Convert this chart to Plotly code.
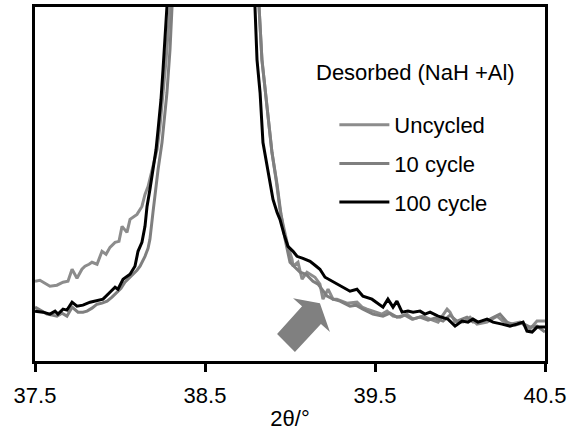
import plotly.graph_objects as go

# ---- data (2theta in degrees, intensity in arbitrary units) ----
uncycled_x = [37.500, 37.529, 37.588, 37.629, 37.665, 37.694, 37.718, 37.747, 37.776, 37.794,
              37.818, 37.835, 37.865, 37.894, 37.918, 37.941, 37.971, 37.994, 38.012, 38.041,
              38.059, 38.100, 38.129, 38.147, 38.165, 38.188, 38.218, 38.235, 38.253, 38.271,
              38.294, 38.40, 38.55, 38.70, 38.818, 38.835, 38.865, 38.894, 38.918, 38.941,
              38.959, 38.988, 39.012, 39.018, 39.047, 39.071, 39.100, 39.147, 39.176, 39.194,
              39.224, 39.253, 39.276, 39.335, 39.394, 39.424, 39.453, 39.512, 39.541, 39.571,
              39.606, 39.647, 39.688, 39.724, 39.782, 39.824, 39.871, 39.924, 39.941, 39.971,
              40.018, 40.059, 40.100, 40.159, 40.218, 40.253, 40.294, 40.353, 40.412, 40.453,
              40.500]
uncycled_y = [80, 81, 75, 76, 79, 80, 92, 83, 92, 95,
              97, 99, 97, 110, 107, 114, 119, 120, 135, 129,
              142, 147, 155, 167, 175, 192, 212, 235, 269, 302,
              355, 2500, 6000, 2500, 355, 302, 252, 209, 182, 152,
              137, 115, 102, 95, 99, 82, 89, 84, 77, 62,
              72, 62, 62, 58, 59, 54, 52, 49, 47, 50,
              45, 44, 47, 42, 45, 42, 39, 52, 49, 39,
              39, 44, 37, 39, 45, 40, 37, 39, 32, 40,
              40]

cycle10_x = [37.500, 37.529, 37.571, 37.600, 37.629, 37.659, 37.688, 37.718, 37.753, 37.782,
             37.806, 37.835, 37.865, 37.894, 37.924, 37.953, 37.982, 38.006, 38.029, 38.053,
             38.076, 38.100, 38.118, 38.135, 38.147, 38.165, 38.176, 38.194, 38.206, 38.224,
             38.247, 38.265, 38.276, 38.294, 38.306, 38.40, 38.55, 38.70, 38.818, 38.835,
             38.865, 38.894, 38.924, 38.947, 38.971, 39.000, 39.029, 39.059, 39.094, 39.135,
             39.165, 39.188, 39.218, 39.253, 39.294, 39.353, 39.388, 39.429, 39.488, 39.547,
             39.588, 39.629, 39.676, 39.718, 39.765, 39.812, 39.853, 39.900, 39.941, 39.982,
             40.041, 40.076, 40.118, 40.176, 40.235, 40.276, 40.324, 40.365, 40.412, 40.453,
             40.500]
cycle10_y = [54, 51, 47, 46, 45, 48, 45, 54, 49, 49,
             50, 53, 57, 58, 60, 64, 69, 73, 79, 83,
             87, 91, 95, 100, 105, 113, 122, 149, 169, 192,
             219, 247, 269, 312, 355, 2500, 6000, 2500, 355, 302,
             252, 209, 177, 147, 122, 99, 94, 89, 87, 80,
             77, 72, 65, 62, 60, 55, 56, 52, 47, 45,
             48, 44, 46, 42, 44, 41, 43, 40, 46, 40,
             44, 39, 39, 42, 47, 39, 36, 38, 34, 35,
             29]

cycle100_x = [37.500, 37.547, 37.588, 37.618, 37.635, 37.665, 37.688, 37.718, 37.747, 37.782,
              37.824, 37.865, 37.900, 37.941, 37.971, 37.988, 38.018, 38.059, 38.088, 38.106,
              38.129, 38.147, 38.159, 38.176, 38.194, 38.212, 38.224, 38.241, 38.253, 38.265,
              38.276, 38.40, 38.54, 38.68, 38.794, 38.806, 38.824, 38.841, 38.865, 38.882,
              38.900, 38.924, 38.941, 38.965, 38.988, 39.018, 39.041, 39.076, 39.118, 39.147,
              39.176, 39.206, 39.247, 39.294, 39.353, 39.394, 39.429, 39.482, 39.512, 39.547,
              39.576, 39.606, 39.629, 39.659, 39.694, 39.724, 39.765, 39.794, 39.824, 39.871,
              39.929, 39.971, 40.012, 40.047, 40.076, 40.106, 40.159, 40.194, 40.247, 40.294,
              40.335, 40.371, 40.394, 40.424, 40.453, 40.500]
cycle100_y = [50, 49, 47, 50, 47, 52, 51, 59, 55, 56,
              59, 61, 62, 69, 74, 72, 82, 87, 95, 110,
              119, 135, 155, 172, 192, 212, 232, 262, 292, 322,
              355, 2500, 6000, 2500, 355, 302, 269, 219, 197, 182,
              162, 149, 142, 127, 115, 110, 105, 103, 100, 96,
              92, 84, 80, 75, 70, 72, 65, 62, 58, 54,
              62, 54, 60, 49, 50, 49, 50, 47, 49, 45,
              42, 35, 40, 39, 42, 39, 42, 39, 37, 35,
              37, 39, 30, 29, 34, 34]

series_names = ["Uncycled", "10 cycle", "100 cycle"]
tick_values = [37.5, 38.5, 39.5, 40.5]
tick_labels = ["37.5", "38.5", "39.5", "40.5"]
legend_title = "Desorbed (NaH +Al)"
x_title = "2θ/°"

# decorative block arrow (2theta, intensity)
arrow_pts = [(38.924, 27), (39.071, 55), (39.018, 63), (39.176, 58),
             (39.235, 29), (39.182, 37), (39.029, 9)]

FONT = "Liberation Sans, Arial, sans-serif"
colors = ["#8c8c8c", "#7f7f7f", "#000000"]

fig = go.Figure()
for name, xs, ys, c in zip(series_names,
                           [uncycled_x, cycle10_x, cycle100_x],
                           [uncycled_y, cycle10_y, cycle100_y], colors):
    fig.add_trace(go.Scatter(x=xs, y=ys, mode="lines", name=name,
                             legendgroup=name,
                             line=dict(color=c, width=3)))

path = "M " + " L ".join(f"{x},{y}" for x, y in arrow_pts) + " Z"
fig.add_shape(type="path", path=path, xref="x", yref="y",
              fillcolor="#808080", line=dict(width=0), layer="above")

fig.add_annotation(text=legend_title, xref="paper", yref="paper",
                   x=0.746, y=0.816, xanchor="center", yanchor="middle",
                   showarrow=False, font=dict(family=FONT, size=22, color="#000"))

fig.update_layout(
    width=571, height=431,
    margin=dict(l=35, r=26, t=7, b=70, autoexpand=False),
    paper_bgcolor="white", plot_bgcolor="white",
    font=dict(family=FONT, size=22, color="#000"),
    showlegend=True,
    legend=dict(x=0.587, y=0.726, xanchor="left", yanchor="top",
                bgcolor="rgba(0,0,0,0)", tracegroupgap=7, itemwidth=50,
                font=dict(family=FONT, size=22, color="#000")),
)
fig.update_xaxes(range=[37.5, 40.5], tickmode="array", tickvals=tick_values,
                 ticktext=tick_labels, ticks="outside", ticklen=8, tickwidth=3,
                 tickcolor="#000", showline=True, linewidth=3, linecolor="#000",
                 mirror=True, showgrid=False, zeroline=False, automargin=False,
                 ticklabelstandoff=5,
                 title=dict(text=x_title, standoff=9, font=dict(size=22)))
fig.update_yaxes(range=[0, 355], showticklabels=False, ticks="",
                 showline=True, linewidth=3, linecolor="#000", mirror=True,
                 showgrid=False, zeroline=False, automargin=False)

fig.write_html("out.html", config={"displayModeBar": False},
               post_script="document.body.style.margin='0';")
